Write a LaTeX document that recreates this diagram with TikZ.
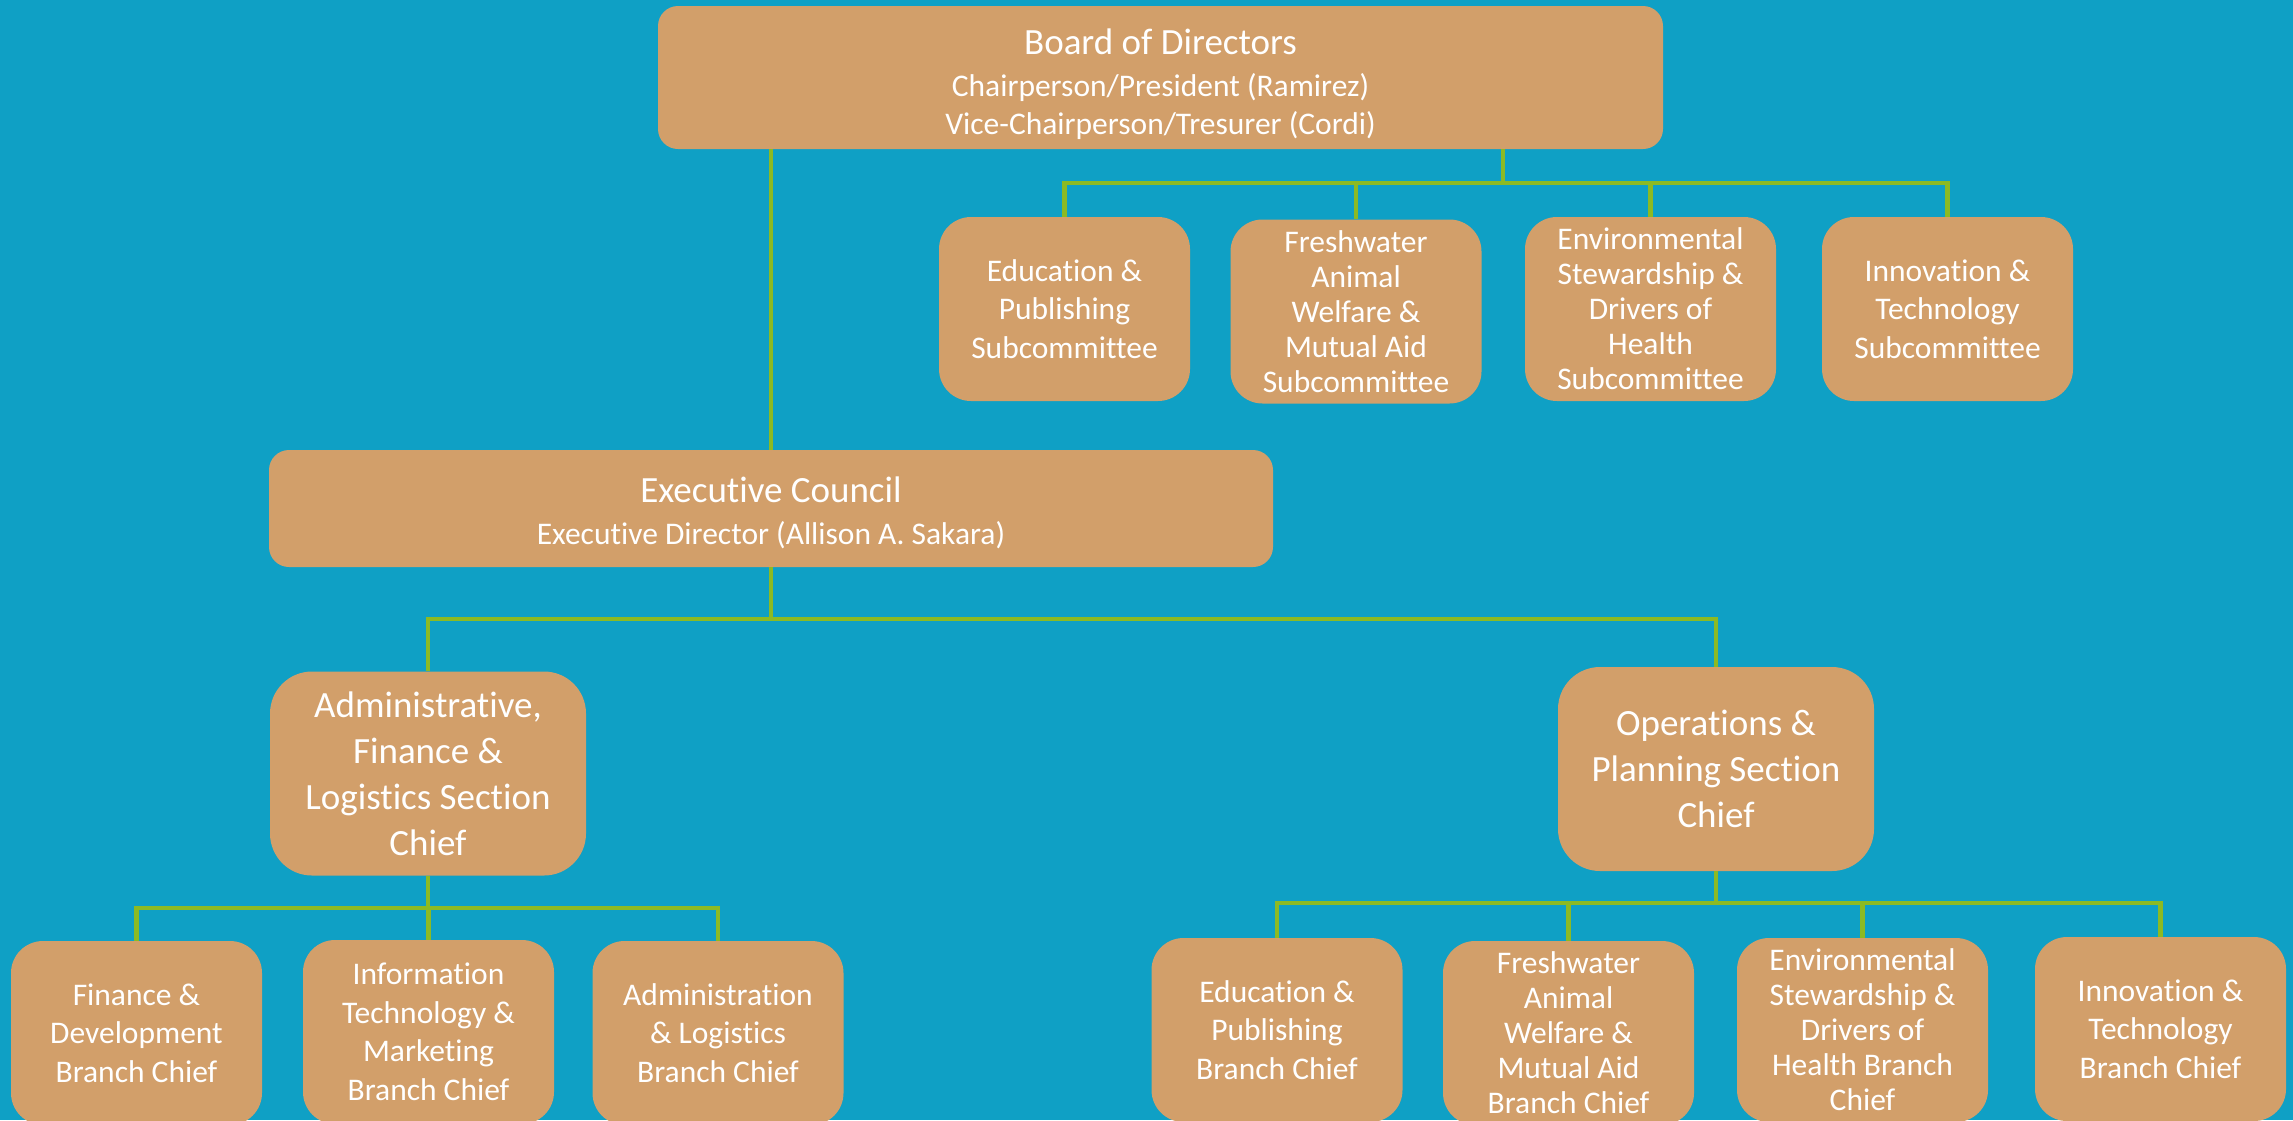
\documentclass[tikz,border=0pt]{standalone}
\usepackage{fontspec}
\setmainfont[Ligatures=NoCommon]{Carlito}
\definecolor{bgblue}{RGB}{15,160,197}
\definecolor{boxtan}{RGB}{210,159,106}
\definecolor{lgreen}{RGB}{140,186,35}
\tikzset{
 box/.style={fill=boxtan, text=white, align=center, inner sep=0pt, font=\fontsize{31.5}{38.5}\selectfont},
 bigbox/.style={box, rounded corners=20pt},
 smallbox/.style={box, rounded corners=32pt, minimum width=251pt, minimum height=184pt},
 tight/.style={font=\fontsize{31.5}{35}\selectfont},
 secbox/.style={box, rounded corners=42pt, minimum width=316pt, minimum height=204pt, font=\fontsize{37}{46}\selectfont},
 link/.style={draw=lgreen, line width=4.5pt}
}
\begin{document}
\begin{tikzpicture}[x=1pt,y=-1pt]
\useasboundingbox (0,0) rectangle (2293,1120);
\clip (0,0) rectangle (2293,1120);
\fill[bgblue] (0,0) rectangle (2293,1120);

% top level
\node[bigbox, minimum width=1005pt, minimum height=143pt] (board) at (1160.5,77.5)
 {\rule{0pt}{40pt}{\fontsize{37}{37}\selectfont Board of Directors}\\[3pt]Chairperson/President (Ramirez)\\Vice-Chairperson/Tresurer (Cordi)};
\node[bigbox, minimum width=1004pt, minimum height=117pt] (exec) at (771,508.5)
 {\rule{0pt}{34pt}{\fontsize{37}{37}\selectfont Executive Council}\\[4pt]Executive Director (Allison A. Sakara)};

% subcommittees
\node[smallbox] (s1) at (1064.5,309) {Education \&\\Publishing\\Subcommittee};
\node[smallbox, tight] (s2) at (1356,311.5) {Freshwater\\Animal\\Welfare \&\\Mutual Aid\\Subcommittee};
\node[smallbox, tight] (s3) at (1650.5,309) {Environmental\\Stewardship \&\\Drivers of\\Health\\Subcommittee};
\node[smallbox] (s4) at (1947.5,309) {Innovation \&\\Technology\\Subcommittee};

% sections
\node[secbox] (admin) at (428,773.5) {Administrative,\\Finance \&\\Logistics Section\\Chief};
\node[secbox] (ops) at (1716,769) {Operations \&\\Planning Section\\Chief};

% branches
\node[smallbox] (b1) at (136.5,1033) {Finance \&\\Development\\Branch Chief};
\node[smallbox] (b2) at (428.5,1032) {Information\\Technology \&\\Marketing\\Branch Chief};
\node[smallbox] (b3) at (718,1033) {Administration\\\& Logistics\\Branch Chief};
\node[smallbox] (b4) at (1277,1030) {Education \&\\Publishing\\Branch Chief};
\node[smallbox, tight] (b5) at (1568.5,1033) {Freshwater\\Animal\\Welfare \&\\Mutual Aid\\Branch Chief};
\node[smallbox, tight] (b6) at (1862.5,1030) {Environmental\\Stewardship \&\\Drivers of\\Health Branch\\Chief};
\node[smallbox] (b7) at (2160.5,1029) {Innovation \&\\Technology\\Branch Chief};

% split points
\coordinate (bsplit) at (1503,183);
\coordinate (esplit) at (771,619);
\coordinate (asplit) at (428,908);
\coordinate (osplit) at (1716,903);

% connectors
\draw[link] (exec.north |- board.south) -- (exec.north);
\draw[link] (bsplit |- board.south) -- (bsplit);
\foreach \n in {s1,s2,s3,s4} \draw[link] (\n.north) |- (bsplit);
\draw[link] (exec.south) -- (esplit);
\draw[link] (admin.north) |- (esplit);
\draw[link] (ops.north) |- (esplit);
\draw[link] (admin.south) -- (asplit);
\foreach \n in {b1,b2,b3} \draw[link] (\n.north) |- (asplit);
\draw[link] (ops.south) -- (osplit);
\foreach \n in {b4,b5,b6,b7} \draw[link] (\n.north) |- (osplit);
\end{tikzpicture}
\end{document}
